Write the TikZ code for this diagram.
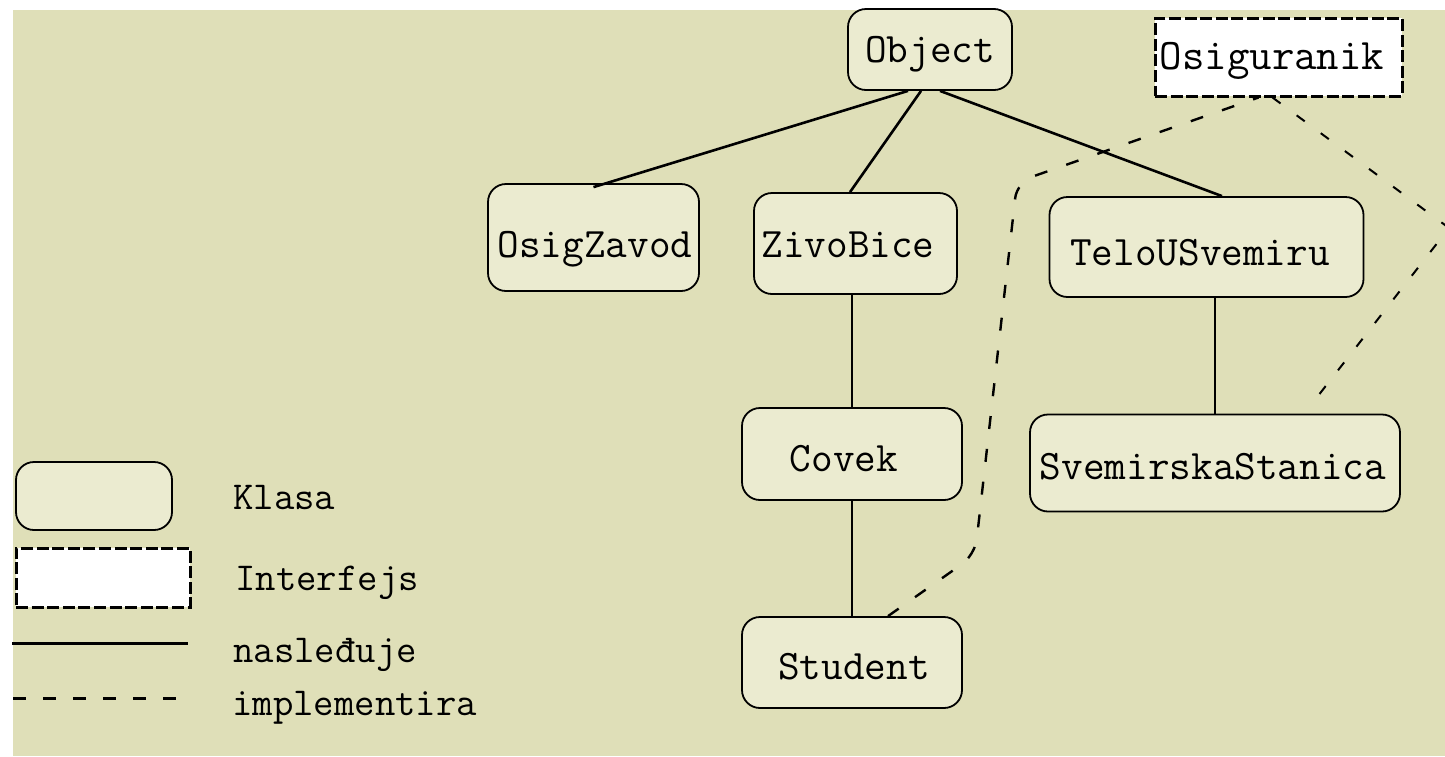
\documentclass[tikz,border=0pt]{standalone}
\usepackage{fontspec}
\definecolor{bgkhaki}{RGB}{223,223,184}
\definecolor{nodefill}{RGB}{235,235,208}
\begin{document}
\begin{tikzpicture}[x=0.5pt,y=-0.5pt,
  klasa/.style={draw=black, line width=0.9pt, fill=nodefill, rounded corners=9pt,
    inner sep=0pt, text depth=0pt, text height=12.8pt,
    font=\fontsize{21}{23}\selectfont\ttfamily},
  interfejs/.style={draw=black, line width=1.5pt, dash pattern=on 6pt off 1.8pt,
    fill=white, inner sep=0pt, text depth=0pt, text height=12.3pt,
    font=\fontsize{21.8}{23}\selectfont\ttfamily},
  inherit/.style={line width=1.3pt},
  impl/.style={line width=1.2pt, dash pattern=on 6.5pt off 10pt},
  implthin/.style={line width=1pt, dash pattern=on 5pt off 10pt},
  legendtext/.style={anchor=base west, inner sep=0pt, font=\fontsize{19.8}{22}\selectfont\ttfamily}]
\clip (0,0) rectangle (1445,756);
\fill[bgkhaki] (13,10) rectangle (1445,756);

% class nodes
\node[klasa, minimum width=82pt, minimum height=40.5pt, text height=13.3pt] (obj) at (930,49.5) {Object};
\node[klasa, minimum width=105.5pt, minimum height=53.5pt, text height=20.3pt] (oz) at (593.5,237.5) {\kern1.5pt OsigZavod};
\node[klasa, minimum width=101.5pt, minimum height=50.5pt, text height=14.3pt] (zb) at (855.5,243.5) {\kern-7.5pt ZivoBice};
\node[klasa, minimum width=110pt, minimum height=46pt, text height=17.8pt] (cov) at (852,454) {\kern-8pt Covek};
\node[klasa, minimum width=110pt, minimum height=45.5pt, text height=17.3pt] (stu) at (852,662.5) {\kern2pt Student};
\node[klasa, minimum width=157pt, minimum height=50pt, text height=18.8pt] (telo) at (1206.5,247) {\kern-6.5pt TeloUSvemiru};
\node[klasa, minimum width=185pt, minimum height=48.5pt, text height=16.8pt] (svem) at (1215,463) {\kern-2pt SvemirskaStanica};
% interface node
\node[interfejs, minimum width=123.5pt, minimum height=39pt] (osi) at (1278.5,57) {\kern-6.5pt Osiguranik};

% inheritance
\draw[inherit] ([xshift=-11pt]obj.south) -- ([yshift=-2pt]oz.north);
\draw[inherit] ([xshift=-4.5pt]obj.south) -- ([xshift=-2.75pt]zb.north);
\draw[inherit] ([xshift=5pt]obj.south) -- ([xshift=7.75pt]telo.north);
\draw[inherit] (cov.north |- zb.south) -- (cov.north);
\draw[inherit] (cov.south) -- (stu.north);
\draw[inherit] (svem.north |- telo.south) -- (svem.north);

% implementation
\coordinate (c1) at (975,555);
\coordinate (c2) at (1017,182);
\coordinate (c3) at (1449,228);
\draw[impl, rounded corners=8pt] ([xshift=18pt]stu.north) -- (c1) -- (c2) -- ([xshift=-10pt]osi.south);
\draw[implthin] ([xshift=-3pt]osi.south) -- (c3) -- ([xshift=48.5pt,yshift=5pt]svem.north);

% legend
\node[klasa, minimum width=78pt, minimum height=34pt] (lk) at (94,496) {};
\node[interfejs, minimum width=87pt, minimum height=29.5pt] (li) at (103,577.5) {};
\node[legendtext] (tk) at (233,509) {Klasa};
\node[legendtext] (ti) at (235,590) {Interfejs};
\node[legendtext] (tn) at (233,662) {nasleđuje};
\node[legendtext] (tim) at (232,715) {implementira};
\coordinate (l1) at (12,643);
\coordinate (l2) at (188,643);
\coordinate (l3) at (13,698);
\coordinate (l4) at (176,698);
\draw[line width=1.5pt] (l1) -- (l2);
\draw[line width=1.5pt, dash pattern=on 6.5pt off 8.5pt] (l3) -- (l4);
\end{tikzpicture}
\end{document}
